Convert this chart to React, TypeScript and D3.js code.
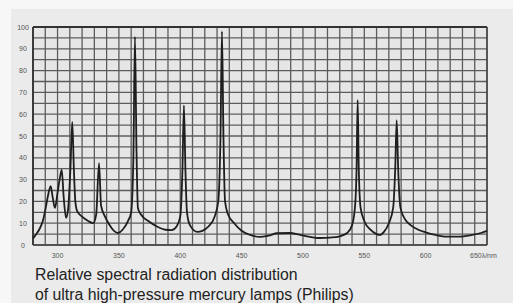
import React from "react";
import * as d3 from "d3";

const wavelengths: number[] = [
  280, 282, 285, 288, 290, 292, 294.4, 296, 297.9, 300, 302, 303.4, 305, 306.9, 308.5, 310.5, 312, 313.3, 314.5, 316,
  320, 325, 329, 331.5, 333.8, 335.5, 338.7, 342, 346, 349.3, 353, 357.4, 360, 361.8, 363.1, 364.3, 365.5, 368, 374, 381,
  388, 393, 397, 400, 401.8, 403, 404.2, 405.5, 408, 414, 418, 423, 428, 431, 432.8, 434, 435.2, 436.5, 439, 444,
  450, 457, 465, 472, 479, 489, 497, 505, 514, 522, 530, 536, 540, 542.5, 543.7, 544.6, 545.5, 547, 550, 555,
  560, 562.8, 566, 570, 573.5, 575.2, 576.4, 577.6, 579.5, 583, 588, 594, 600, 608, 617, 627, 637, 645, 650,
];
const intensities: number[] = [
  3, 4.5, 7, 11, 16, 22, 27, 22, 17, 24, 31, 34.5, 22, 12.5, 16, 35, 56.5, 35, 20, 15.5,
  13, 11, 10, 14, 37.5, 18, 13, 9.5, 6.5, 5.5, 7, 11, 15, 40, 95.5, 45, 17, 14, 11, 8.5,
  7, 6.8, 8.5, 13, 35, 64, 35, 15, 9, 6, 6.5, 8.5, 13, 20, 50, 98, 50, 20, 14, 10,
  6.5, 4.6, 3.7, 4.3, 5.4, 5.5, 4.8, 3.8, 3.2, 3.4, 4, 5.5, 9, 18, 35, 66.5, 35, 17, 11, 7,
  5, 4.6, 6, 10, 17, 35, 57.3, 35, 17, 12, 9, 7, 5.8, 4.6, 3.8, 3.8, 4.5, 5.5, 6.5,
];
const yTicks: number[] = [0, 10, 20, 30, 40, 50, 60, 70, 80, 90, 100];
const xTicks: number[] = [300, 350, 400, 450, 500, 550, 600];
const lastXLabel = "650λ/nm";
const caption: string[] = [
  "Relative spectral radiation distribution",
  "of ultra high-pressure mercury lamps (Philips)",
];

export default function App() {
  const W = 513, H = 303;
  const left = 33, right = 487, top = 27, bottom = 245;
  const x = d3.scaleLinear().domain([280, 650]).range([left, right]);
  const y = d3.scaleLinear().domain([0, 100]).range([bottom, top]);
  const hGrid = d3.range(0, 100.01, 5);
  const vGrid = d3.range(280, 650.01, 10);
  const pts = wavelengths.map((w, i) => [w, intensities[i]] as [number, number]);
  const line = d3
    .line<[number, number]>()
    .x((d) => x(d[0]))
    .y((d) => y(d[1]))
    .curve(d3.curveMonotoneX);
  return (
    <svg
      width={W}
      height={H}
      style={{ position: "absolute", left: 0, top: 0, display: "block" }}
    >
      <rect x={0} y={0} width={W} height={H} fill="#f7f7f7" />
      <rect x={11} y={9} width={W - 11} height={H - 9} fill="#ebebeb" />
      <rect x={left} y={top} width={right - left} height={bottom - top} fill="#e6e6e6" />
      {hGrid.map((v) => (
        <line key={"h" + v} x1={left} x2={right} y1={y(v)} y2={y(v)} stroke="#5c5c5c" strokeWidth={1.3} />
      ))}
      {vGrid.map((v) => (
        <line key={"v" + v} x1={x(v)} x2={x(v)} y1={top} y2={bottom} stroke="#5c5c5c" strokeWidth={1.3} />
      ))}
      <line x1={left} x2={right} y1={top} y2={top} stroke="#333" strokeWidth={2.2} />
      <line x1={left} x2={left} y1={top} y2={bottom} stroke="#333" strokeWidth={1.8} />
      <line x1={left} x2={right} y1={bottom} y2={bottom} stroke="#444" strokeWidth={1.5} />
      <line x1={right} x2={right} y1={top} y2={bottom} stroke="#444" strokeWidth={1.5} />
      <path d={line(pts) || ""} fill="none" stroke="#1e1e1e" strokeWidth={1.8} strokeLinejoin="round" />
      {yTicks.map((t) => (
        <text
          key={"yt" + t}
          x={23}
          y={y(t) + 2.5}
          textAnchor="middle"
          fontFamily="Liberation Sans, Arial, sans-serif"
          fontSize={7}
          fill="#555"
        >
          {t}
        </text>
      ))}
      {xTicks.map((t) => (
        <text
          key={"xt" + t}
          x={x(t)}
          y={258}
          textAnchor="middle"
          fontFamily="Liberation Sans, Arial, sans-serif"
          fontSize={7}
          fill="#555"
        >
          {t}
        </text>
      ))}
      <text
        x={470}
        y={258}
        textAnchor="start"
        fontFamily="Liberation Sans, Arial, sans-serif"
        fontSize={7}
        fill="#555"
      >
        {lastXLabel}
      </text>
      {caption.map((c, i) => (
        <text
          key={"c" + i}
          x={35}
          y={280 + i * 20}
          fontFamily="Liberation Sans, Arial, sans-serif"
          fontSize={15.8}
          fill="#222"
        >
          {c}
        </text>
      ))}
    </svg>
  );
}
